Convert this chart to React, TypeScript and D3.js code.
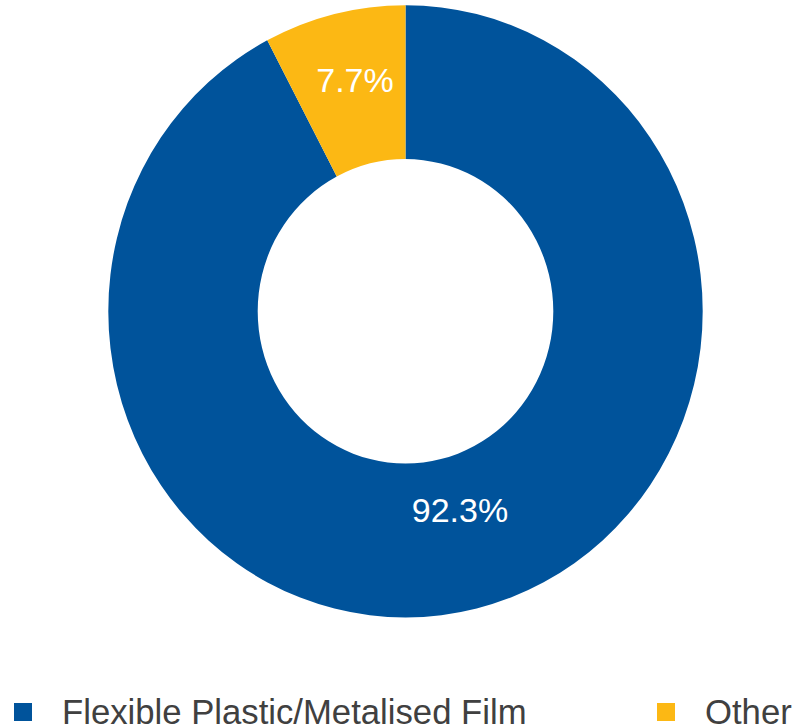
import React from "react";
import * as d3 from "d3";

const categories = ["Flexible Plastic/Metalised Film", "Other"];
const values = [92.3, 7.7];
const labels = ["92.3%", "7.7%"];
const colors = ["#00539B", "#FCB814"];

const W = 796;
const H = 728;

export default function App() {
  const cx = 405.5;
  const cy = 311.3;
  const outerR = 297.2;
  const innerR = 147.8;
  const yScale = 1.03;

  const data = categories.map((c, i) => ({ name: c, value: values[i], label: labels[i], color: colors[i] }));
  const pie = d3.pie<any>().sort(null).value((d) => d.value);
  const arcs = pie(data);
  const arc = d3.arc<any>().innerRadius(innerR).outerRadius(outerR);
  const labelArc = d3.arc<any>().innerRadius(215).outerRadius(215);

  const legendX = [14, 657];

  return (
    <svg
      width={W}
      height={H}
      style={{ position: "absolute", left: 0, top: 0, display: "block" }}
      fontFamily="'Liberation Sans', Arial, sans-serif"
    >
      <rect x={0} y={0} width={W} height={H} fill="#ffffff" />
      <g transform={`translate(${cx},${cy}) scale(1,${yScale})`}>
        {arcs.map((a, i) => (
          <path key={i} d={arc(a) || ""} fill={a.data.color} />
        ))}
      </g>
      <g transform={`translate(${cx},${cy})`}>
        {arcs.map((a, i) => {
          const [x, y] = labelArc.centroid(a);
          return (
            <text
              key={i}
              x={x + (i === 0 ? 3 : 1)}
              y={y * yScale - 4}
              textAnchor="middle"
              fontSize={34}
              fill="#ffffff"
            >
              {a.data.label}
            </text>
          );
        })}
      </g>
      {data.map((d, i) => (
        <g key={i}>
          <rect x={legendX[i]} y={703} width={18} height={18} fill={d.color} />
          <text x={legendX[i] + 48} y={724} fontSize={34.7} fill="#404040">
            {d.name}
          </text>
        </g>
      ))}
    </svg>
  );
}
